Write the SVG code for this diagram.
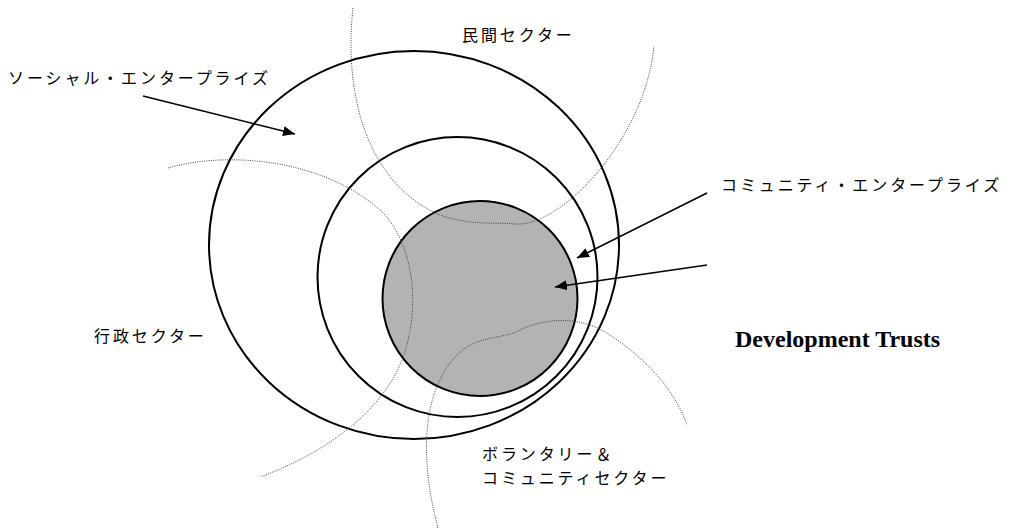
<svg xmlns="http://www.w3.org/2000/svg" width="1014" height="530" viewBox="0 0 1014 530">
<style>
.ring{fill:none;stroke:#000;stroke-width:2}
.dot{fill:none;stroke:#444;stroke-width:1;stroke-dasharray:1 1.3}
.jp{font-family:"Noto Sans CJK JP","Noto Sans",sans-serif;font-size:16px;letter-spacing:2.9px;fill:#000}
.en{font-family:"Liberation Serif","Times New Roman",serif;font-size:24px;font-weight:bold;fill:#000}
.arr{fill:none;stroke:#000;stroke-width:1.6;marker-end:url(#ah)}
</style>
<defs>
<marker id="ah" markerUnits="userSpaceOnUse" markerWidth="14" markerHeight="12" refX="12" refY="5" orient="auto">
<path d="M0,0 L12,5 L0,10 Z" fill="#000"/>
</marker>
</defs>
<rect width="1014" height="530" fill="#fff"/>
<g id="social-enterprise">
<ellipse class="ring" cx="414" cy="245" rx="205" ry="194"/>
</g>
<g id="community-enterprise">
<circle class="ring" cx="457.5" cy="277" r="140"/>
</g>
<g id="development-trusts">
<circle cx="480" cy="298.5" r="97.5" fill="#b3b3b3" stroke="#000" stroke-width="2"/>
</g>
<g id="sectors">
<path class="dot" d="M353,8 C343,100 370,185 440,215 C470,226 500,222 515,224 C560,228 645,140 654,46"/>
<path class="dot" d="M168,168 C230,150 330,160 385,215 C420,255 420,330 395,375 C370,420 320,455 260,477"/>
<path class="dot" d="M438,528 C420,460 420,390 460,352 C480,335 500,340 520,330 C545,318 580,315 610,335 C645,358 675,390 687,425"/>
</g>
<g id="connectors">
<line class="arr" x1="143" y1="96" x2="295" y2="134"/>
<line class="arr" x1="707" y1="193" x2="577" y2="258"/>
<line class="arr" x1="707" y1="265" x2="555" y2="287"/>
</g>
<g id="labels">
<text class="jp" x="462" y="41">民間セクター</text>
<text class="jp" x="8" y="84">ソーシャル・エンタープライズ</text>
<text class="jp" x="721" y="191">コミュニティ・エンタープライズ</text>
<text class="jp" x="94" y="342">行政セクター</text>
<text class="jp" x="482" y="460">ボランタリー＆</text>
<text class="jp" x="482" y="484">コミュニティセクター</text>
<text class="en" x="735" y="347">Development Trusts</text>
</g>
</svg>
